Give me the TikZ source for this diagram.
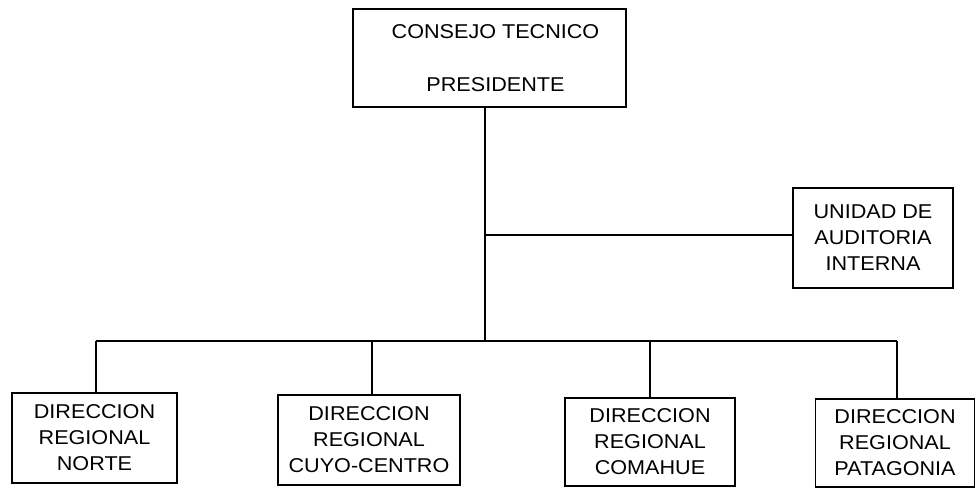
\documentclass[tikz,border=0pt]{standalone}
\usepackage{fontspec}
\newfontfamily\orgfont[FakeStretch=1.08]{Liberation Sans}
\begin{document}
\begin{tikzpicture}[x=1pt,y=-1pt,
  orgbox/.style={draw=black, line width=1.3pt, rectangle, align=center, inner sep=0pt,
    font=\orgfont\fontsize{20}{26}\selectfont},
  link/.style={draw=black, line width=1.3pt}]
\fill[white] (0,0) rectangle (976,487);
\useasboundingbox (0,0) rectangle (976,487);

\node[orgbox, minimum width=273pt, minimum height=98pt] (top) at (489.5,58)
  {\hspace*{12pt}CONSEJO TECNICO\\[27pt]\hspace*{12pt}PRESIDENTE};
\node[orgbox, minimum width=160pt, minimum height=100pt] (unidad) at (873,238)
  {UNIDAD DE\\AUDITORIA\\INTERNA};
\node[orgbox, minimum width=165pt, minimum height=90pt] (norte) at (94.5,438)
  {DIRECCION\\REGIONAL\\NORTE};
\node[orgbox, minimum width=182pt, minimum height=90pt] (cuyo) at (369,440)
  {DIRECCION\\REGIONAL\\CUYO-CENTRO};
\node[orgbox, minimum width=170pt, minimum height=88pt] (comahue) at (650,442)
  {DIRECCION\\REGIONAL\\COMAHUE};
\node[orgbox, minimum width=159pt, minimum height=88pt] (patagonia) at (895,443)
  {DIRECCION\\REGIONAL\\PATAGONIA};

\coordinate (j1) at (485,235);
\coordinate (j2) at (485,341);
\coordinate (bN) at (96,341);
\coordinate (bC) at (372,341);
\coordinate (bM) at (650,341);
\coordinate (bP) at (897,341);

\draw[link] (top.south -| j1) -- (j2);
\draw[link] (j1) -- (j1 -| unidad.west);
\draw[link] (bN) -- (bP);
\draw[link] (bN) -- (bN |- norte.north);
\draw[link] (bC) -- (bC |- cuyo.north);
\draw[link] (bM) -- (bM |- comahue.north);
\draw[link] (bP) -- (bP |- patagonia.north);
\end{tikzpicture}
\end{document}
